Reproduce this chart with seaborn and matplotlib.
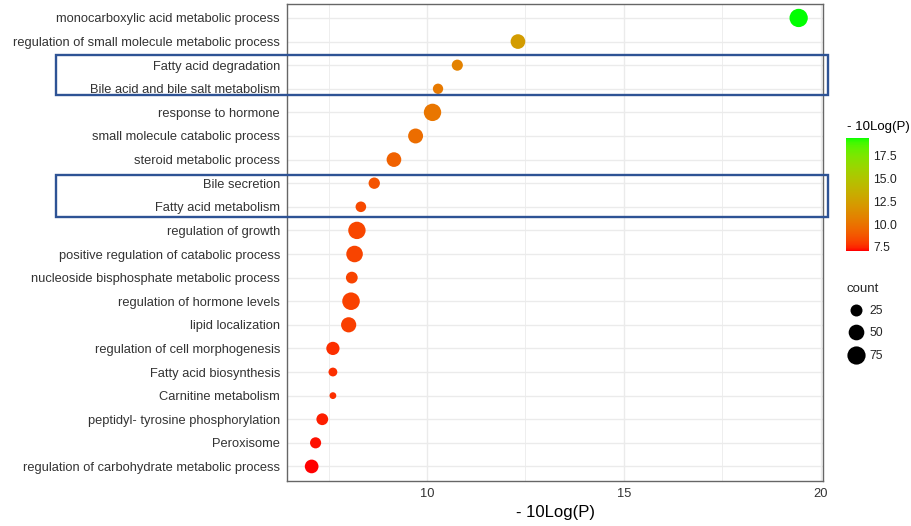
import numpy as np
import pandas as pd
import matplotlib
matplotlib.use("Agg")
import matplotlib.pyplot as plt
import matplotlib.transforms as mtransforms
from matplotlib.colors import LinearSegmentedColormap, Normalize
from matplotlib.cm import ScalarMappable
from matplotlib.lines import Line2D
from matplotlib.patches import Rectangle
import seaborn as sns

# ---------------- data ----------------
terms = [
    "monocarboxylic acid metabolic process",
    "regulation of small molecule metabolic process",
    "Fatty acid degradation",
    "Bile acid and bile salt metabolism",
    "response to hormone",
    "small molecule catabolic process",
    "steroid metabolic process",
    "Bile secretion",
    "Fatty acid metabolism",
    "regulation of growth",
    "positive regulation of catabolic process",
    "nucleoside bisphosphate metabolic process",
    "regulation of hormone levels",
    "lipid localization",
    "regulation of cell morphogenesis",
    "Fatty acid biosynthesis",
    "Carnitine metabolism",
    "peptidyl- tyrosine phosphorylation",
    "Peroxisome",
    "regulation of carbohydrate metabolic process",
]
neg_log_p = [19.44, 12.31, 10.77, 10.28, 10.14, 9.71, 9.16, 8.66, 8.32, 8.22,
             8.16, 8.09, 8.07, 8.01, 7.61, 7.61, 7.61, 7.34, 7.17, 7.07]
counts = [76, 42, 21, 18, 66, 44, 42, 22, 19, 66,
          58, 24, 68, 46, 32, 14, 12, 24, 21, 35]
highlight_groups = [["Fatty acid degradation", "Bile acid and bile salt metabolism"],
                     ["Bile secretion", "Fatty acid metabolism"]]
color_ticks = [7.5, 10.0, 12.5, 15.0, 17.5]
size_breaks = [25, 50, 75]
x_ticks = [10, 15, 20]

df = pd.DataFrame({"term": terms, "logp": neg_log_p, "count": counts})

# ---------------- colour scale: red -> green interpolated in Lab ----------------
def _srgb_to_lab(rgb):
    c = np.asarray(rgb, float)
    lin = np.where(c <= 0.04045, c / 12.92, ((c + 0.055) / 1.055) ** 2.4)
    M = np.array([[0.4124, 0.3576, 0.1805], [0.2126, 0.7152, 0.0722], [0.0193, 0.1192, 0.9505]])
    xyz = M @ lin / np.array([0.95047, 1.0, 1.08883])
    d = 6 / 29
    f = np.where(xyz > d ** 3, np.cbrt(xyz), xyz / (3 * d * d) + 4 / 29)
    return np.array([116 * f[1] - 16, 500 * (f[0] - f[1]), 200 * (f[1] - f[2])])

def _lab_to_srgb(lab):
    L, a, b = lab
    fy = (L + 16) / 116
    fx = fy + a / 500
    fz = fy - b / 200
    d = 6 / 29
    f = np.array([fx, fy, fz])
    xyz = np.where(f > d, f ** 3, 3 * d * d * (f - 4 / 29)) * np.array([0.95047, 1.0, 1.08883])
    Minv = np.linalg.inv(np.array([[0.4124, 0.3576, 0.1805], [0.2126, 0.7152, 0.0722], [0.0193, 0.1192, 0.9505]]))
    lin = np.clip(Minv @ xyz, 0, 1)
    c = np.where(lin <= 0.0031308, 12.92 * lin, 1.055 * lin ** (1 / 2.4) - 0.055)
    return np.clip(c, 0, 1)

lab_lo = _srgb_to_lab([1, 0, 0])
lab_hi = _srgb_to_lab([0, 1, 0])
grad = [_lab_to_srgb(lab_lo + (lab_hi - lab_lo) * t) for t in np.linspace(0, 1, 256)]
cmap = LinearSegmentedColormap.from_list("red_green_lab", grad)
norm = Normalize(min(neg_log_p), max(neg_log_p))

# ---------------- size scale (ggplot-like sqrt area scale) ----------------
cmin, cmax = min(counts), max(counts)
DPI = 100
def diam_pt(c, dmin_px=6.8, dmax_px=18.3):
    t = (c - cmin) / (cmax - cmin)
    return (dmin_px + (dmax_px - dmin_px) * np.sqrt(max(t, 0))) * 72 / DPI

size_map = {c: diam_pt(c) ** 2 for c in sorted(set(counts))}

# ---------------- figure ----------------
sns.set_theme(style="white")
plt.rcParams["font.family"] = ["Liberation Sans", "DejaVu Sans"]

W, H = 911, 526
fig = plt.figure(figsize=(W / DPI, H / DPI), dpi=DPI)
fig.patch.set_facecolor("white")
ax = fig.add_axes([287.3 / W, 1 - 480.6 / H, (823 - 287.3) / W, (480.6 - 3.8) / H])

sns.scatterplot(data=df, x="logp", y="term", hue="logp", palette=cmap, hue_norm=norm,
                size="count", sizes=size_map, legend=False, linewidth=0, ax=ax, zorder=3)

r = max(neg_log_p) - min(neg_log_p)
ax.set_xlim(min(neg_log_p) - 0.05 * r, max(neg_log_p) + 0.05 * r)
ax.set_ylim(len(terms) - 1 + 0.6, -0.6)
ax.set_xticks(x_ticks)
ax.set_xticks([7.5, 12.5, 17.5], minor=True)
ax.set_yticks(range(len(terms)))
ax.set_yticklabels(terms)
ax.set_axisbelow(True)
ax.grid(which="major", color="#EBEBEB", linewidth=1.0)
ax.grid(which="minor", axis="x", color="#EBEBEB", linewidth=0.6)
for s in ax.spines.values():
    s.set_color("#666666")
    s.set_linewidth(1.0)
ax.tick_params(axis="both", which="major", length=2.7, width=0.8, color="#555555",
               labelcolor="#333333", pad=2.5)
ax.tick_params(axis="y", which="major", labelsize=9.3)
ax.tick_params(axis="x", which="major", labelsize=9.3)
ax.tick_params(axis="both", which="minor", length=0)
ax.set_ylabel("")
ax.set_xlabel("- 10Log(P)", fontsize=12, color="black", labelpad=4)

# ---------------- highlight boxes ----------------
trans = mtransforms.blended_transform_factory(fig.transFigure, ax.transData)
for grp, (pad_top, pad_bot) in zip(highlight_groups, [(0.445, 0.275), (0.335, 0.42)]):
    idx = [terms.index(g) for g in grp]
    y0 = min(idx) - pad_top
    y1 = max(idx) + pad_bot
    rect = Rectangle((56 / W, y0), (828 - 56) / W, y1 - y0, transform=trans,
                     fill=False, edgecolor="#2E5395", linewidth=1.7, clip_on=False, zorder=10)
    fig.add_artist(rect)

# ---------------- colourbar ----------------
cax = fig.add_axes([845.7 / W, 1 - 250.7 / H, 23.3 / W, 112.7 / H])
cb = fig.colorbar(ScalarMappable(norm=norm, cmap=cmap), cax=cax)
cb.outline.set_visible(False)
cb.set_ticks(color_ticks)
cb.set_ticklabels([f"{t:.1f}" for t in color_ticks])
cb.minorticks_off()
cax.yaxis.set_ticks_position("both")
cax.tick_params(axis="y", which="major", direction="in", color="white", length=4, width=0.8,
                labelleft=False, labelright=True, labelsize=8.7, labelcolor="#222222", pad=3)
fig.text(847 / W, 1 - 127 / H, "- 10Log(P)", ha="left", va="center", fontsize=9.5, color="black")

# ---------------- size legend ----------------
handles = [Line2D([], [], linestyle="none", marker="o", markersize=diam_pt(b),
                  markerfacecolor="black", markeredgewidth=0) for b in size_breaks]
fig.legend(handles, [str(b) for b in size_breaks], title="count", loc="upper left",
           bbox_to_anchor=(838 / W, 1 - 274.5 / H), frameon=False, fontsize=8.7,
           title_fontsize=9.5, alignment="left", labelspacing=0.85, handletextpad=0.3,
           borderpad=0.2, handlelength=1.6)

fig.savefig("out.png", dpi=DPI, facecolor="white")
